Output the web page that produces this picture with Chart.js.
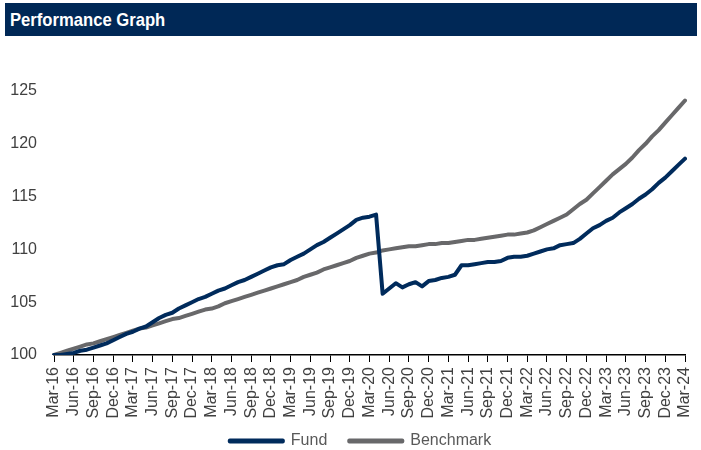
<!DOCTYPE html>
<html>
<head>
<meta charset="utf-8">
<script src="https://cdn.jsdelivr.net/npm/chart.js@4/dist/chart.umd.min.js"></script>
<style>
  html, body { margin: 0; padding: 0; background: #ffffff; }
  #wrap { position: relative; width: 701px; height: 450px; overflow: hidden; }
  #title {
    position: absolute; left: 5px; top: 3px; width: 692px; height: 33px;
    background: #002856; overflow: hidden;
  }
  #title span {
    position: absolute; left: 5px; top: 0; line-height: 33px; white-space: nowrap;
    color: #ffffff; font-family: "Liberation Sans", Arial, sans-serif;
    font-weight: bold; font-size: 19px;
    transform: scaleX(0.875); transform-origin: left center;
  }
  #c { position: absolute; left: 0; top: 0; }
</style>
</head>
<body>
<div id="wrap">
  <canvas id="c" width="701" height="450"></canvas>
  <div id="title"><span>Performance Graph</span></div>
</div>
<script>
const months = ["Mar","Apr","May","Jun","Jul","Aug","Sep","Oct","Nov","Dec","Jan","Feb"];
// Monthly categories Mar-16 .. Mar-24
const categories = [];
for (let i = 0; i <= 96; i++) {
  const m = months[i % 12];
  const yr = 16 + Math.floor((i + 2) / 12);
  categories.push(m + "-" + yr);
}

const fund = [
  100.0,100.0,100.1,100.2,100.4,100.5,100.7,100.9,101.1,101.4,101.7,102.0,
  102.2,102.5,102.7,103.1,103.5,103.8,104.0,104.4,104.7,105.0,105.3,105.5,
  105.8,106.1,106.3,106.6,106.9,107.1,107.4,107.7,108.0,108.3,108.5,108.6,
  109.0,109.3,109.6,110.0,110.4,110.7,111.1,111.5,111.9,112.3,112.8,113.0,
  113.1,113.3,105.8,106.3,106.8,106.4,106.7,106.9,106.5,107.0,107.1,107.3,
  107.4,107.6,108.5,108.5,108.6,108.7,108.8,108.8,108.9,109.2,109.3,109.3,
  109.4,109.6,109.8,110.0,110.1,110.4,110.5,110.6,111.0,111.5,112.0,112.3,
  112.7,113.0,113.5,113.9,114.3,114.8,115.2,115.7,116.3,116.8,117.4,118.0,
  118.6
];

const benchmark = [
  100.0,100.2,100.4,100.6,100.8,101.0,101.1,101.3,101.5,101.7,101.9,102.1,
  102.3,102.5,102.6,102.8,103.0,103.2,103.4,103.5,103.7,103.9,104.1,104.3,
  104.4,104.6,104.9,105.1,105.3,105.5,105.7,105.9,106.1,106.3,106.5,106.7,
  106.9,107.1,107.4,107.6,107.8,108.1,108.3,108.5,108.7,108.9,109.2,109.4,
  109.6,109.7,109.9,110.0,110.1,110.2,110.3,110.3,110.4,110.5,110.5,110.6,
  110.6,110.7,110.8,110.9,110.9,111.0,111.1,111.2,111.3,111.4,111.4,111.5,
  111.6,111.8,112.1,112.4,112.7,113.0,113.3,113.8,114.3,114.7,115.3,115.9,
  116.5,117.1,117.6,118.1,118.7,119.4,120.0,120.7,121.3,122.0,122.7,123.4,
  124.1
];

const yTicks = [100, 105, 110, 115, 120, 125];

const FONT = "'Liberation Sans', Arial, sans-serif";
const fundColor = "#002b5c";
const benchColor = "#68686a";

const legendFit = {
  id: "legendFit",
  afterInit(chart) {
    const lg = chart.legend;
    if (!lg) return;
    const orig = lg.fit.bind(lg);
    lg.fit = function () { orig(); this.height = 39; };
  },
  afterLayout(chart) {
    const lg = chart.legend;
    if (!lg) return;
    lg.left += 18; lg.right += 18;
  }
};

new Chart(document.getElementById("c"), {
  type: "line",
  data: {
    labels: categories,
    datasets: [
      { label: "Fund", data: fund, borderColor: fundColor, backgroundColor: fundColor,
        borderWidth: 4, pointRadius: 0, tension: 0, borderJoinStyle: "round", borderCapStyle: "round" },
      { label: "Benchmark", data: benchmark, borderColor: benchColor, backgroundColor: benchColor,
        borderWidth: 4, pointRadius: 0, tension: 0, borderJoinStyle: "round", borderCapStyle: "round" }
    ]
  },
  plugins: [legendFit],
  options: {
    responsive: false,
    animation: false,
    layout: { padding: { top: 91, right: 16, left: 0, bottom: 0 } },
    plugins: {
      title: { display: false },
      tooltip: { enabled: false },
      legend: {
        position: "bottom",
        labels: {
          boxWidth: 53, boxHeight: 1, padding: 22,
          color: "#595959",
          font: { family: FONT, size: 16 },
          generateLabels: (chart) => Chart.defaults.plugins.legend.labels.generateLabels(chart).map(l => {
            l.lineWidth = 4; l.lineJoin = "round"; l.lineCap = "round"; return l;
          })
        }
      }
    },
    scales: {
      x: {
        type: "category",
        offset: false,
        afterFit: (s) => {
          s.height = 56;
          s.paddingRight = 0; s.paddingLeft = 0;
          s._computeLabelArea = () => undefined;
        },
        grid: { display: true, drawOnChartArea: false, drawTicks: true, tickLength: 7, color: "#000000", lineWidth: 1 },
        border: { display: true, color: "#000000", width: 1.5 },
        ticks: {
          autoSkip: false, maxRotation: 90, minRotation: 90, padding: 5,
          color: "#404040", font: { family: FONT, size: 16 },
          callback: function(v, i) { return i % 3 === 0 ? categories[i] : null; }
        }
      },
      y: {
        min: 100, max: 125,
        afterBuildTicks: (s) => { s.ticks = yTicks.map(v => ({ value: v })); },
        afterFit: (s) => { s.width = 54; },
        grid: { display: false, drawTicks: false },
        border: { display: false },
        ticks: { padding: 17, color: "#404040", font: { family: FONT, size: 16 } }
      }
    }
  }
});
</script>
</body>
</html>
